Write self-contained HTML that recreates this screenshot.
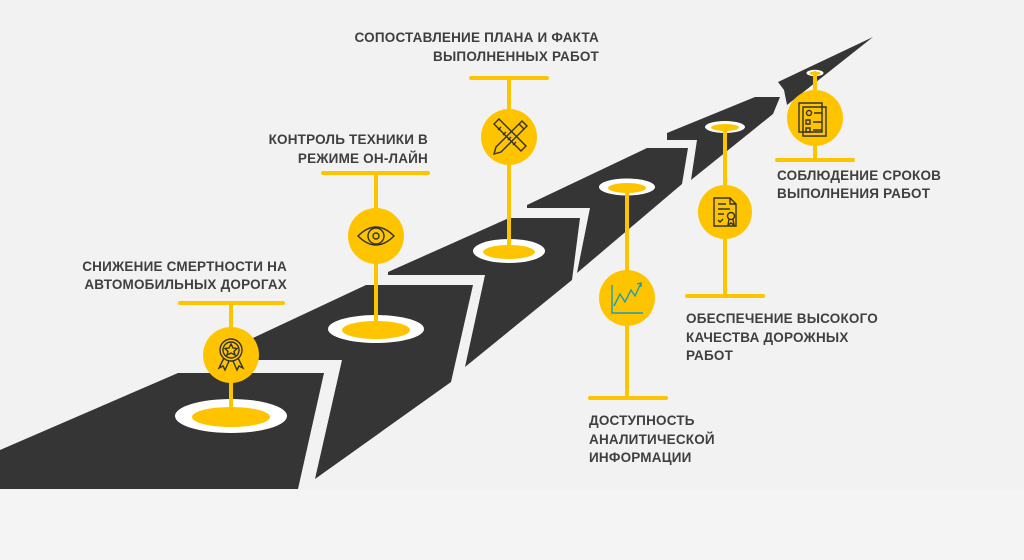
<!DOCTYPE html>
<html><head><meta charset="utf-8"><style>
html,body{margin:0;padding:0;background:#f2f2f2;}
svg{display:block}
text{font-family:"Liberation Sans","DejaVu Sans",sans-serif;font-weight:bold;font-size:13.5px;fill:#3f3f3f;letter-spacing:0.2px}
</style></head><body>
<svg width="1024" height="560" viewBox="0 0 1024 560" xmlns="http://www.w3.org/2000/svg">
<rect width="1024" height="560" fill="#f4f4f4"/>
<rect width="1024" height="490" fill="#f2f2f2"/>
<g fill="#353535">
<polygon points="0,450 178,373 324,373 298,489 0,489"/>
<polygon points="253,338 366,285 473,285 451,382 315,479 342,360 253,360"/>
<polygon points="388,272 509,218 580,218 572,280 465,367 485,275 388,275"/>
<polygon points="527,205 647,148 688,148 682,184 577,273 590,208 527,208"/>
<polygon points="667,133 755,97 780,97 773,114 691,180 697,140 667,140"/>
<polygon points="778,82 873,37 787,105 784,90"/>
</g>
<g>
<ellipse cx="231" cy="416" rx="56" ry="17" fill="#fff"/><ellipse cx="231" cy="417" rx="39" ry="10" fill="#ffc400"/>
<ellipse cx="376" cy="329" rx="48" ry="14" fill="#fff"/><ellipse cx="376" cy="330" rx="34" ry="9" fill="#ffc400"/>
<ellipse cx="509" cy="251" rx="36" ry="12" fill="#fff"/><ellipse cx="509" cy="252" rx="26" ry="7" fill="#ffc400"/>
<ellipse cx="627" cy="187" rx="28" ry="8.5" fill="#fff"/><ellipse cx="627" cy="188" rx="19" ry="5" fill="#ffc400"/>
<ellipse cx="725" cy="127" rx="20" ry="6" fill="#fff"/><ellipse cx="725" cy="127.5" rx="14" ry="3.5" fill="#ffc400"/>
<ellipse cx="815" cy="73" rx="8.5" ry="3.2" fill="#fff"/><ellipse cx="815" cy="73.3" rx="5.5" ry="1.8" fill="#ffc400"/>
</g>
<g stroke="#ffc400" stroke-width="4" stroke-linecap="round" fill="none">
<line x1="180" y1="303" x2="283" y2="303"/><line x1="231" y1="303" x2="231" y2="414"/>
<line x1="323" y1="173" x2="428" y2="173"/><line x1="376" y1="173" x2="376" y2="327"/>
<line x1="471" y1="78" x2="547" y2="78"/><line x1="509" y1="78" x2="509" y2="249"/>
<line x1="590" y1="398" x2="666" y2="398"/><line x1="627" y1="187" x2="627" y2="398"/>
<line x1="687" y1="296" x2="763" y2="296"/><line x1="725" y1="127" x2="725" y2="296"/>
<line x1="777" y1="160" x2="853" y2="160"/><line x1="815" y1="73" x2="815" y2="160"/>
</g>
<g fill="#ffc400">
<circle cx="231" cy="355" r="28"/>
<circle cx="376" cy="236" r="28"/>
<circle cx="509" cy="137" r="28"/>
<circle cx="627" cy="298" r="28"/>
<circle cx="725" cy="212" r="27"/>
<circle cx="815" cy="118" r="28"/>
</g>
<g stroke="#333" stroke-width="1.4" fill="none">
<circle cx="231" cy="350" r="11"/><circle cx="231" cy="350" r="8"/>
<polygon points="231,344 233,348 237,348.5 234,351.5 235,355 231,353 227,355 228,351.5 225,348.5 229,348" />
<path d="M224,358 L219,368 L223,366 L225,370 L229,361 M238,358 L243,368 L239,366 L237,370 L233,361"/>
<path d="M358,236 Q376,218 394,236 Q376,254 358,236 Z"/><circle cx="376" cy="236" r="8"/><circle cx="376" cy="236" r="3"/>
<path d="M494,124 L499,119 L526,146 L521,151 Z M498,130 l3,-3 M503,135 l3,-3 M508,140 l3,-3 M513,145 l3,-3"/>
<path d="M522,121 L527,126 L501,152 L494,154 L496,147 Z M519,124 l5,5"/>
<path d="M612,285 L612,313 L643,313" stroke="#1a9db0"/>
<path d="M614,306 L620,294 L625,302 L631,290 L635,296 L641,283 M637,284 l4,-1 l0,4" stroke="#1a9db0"/>
<path d="M714,198 L730,198 L736,204 L736,226 L714,226 Z M730,198 L730,204 L736,204 M718,204 h8 M718,209 h12 M718,214 h6 M718,220 l2,2 l3,-3"/>
<circle cx="731" cy="216" r="3.5"/><path d="M729,219 l-1,6 l3,-2 l3,2 l-1,-6"/>
<path d="M799,103 L822,103 L822,132 L799,132 Z M803,107 L826,107 L826,136 L803,136 Z"/>
<circle cx="809" cy="113" r="2.5"/><path d="M814,113 h8 M806,120 h4 v4 h-4 z M813,122 h9 M806,128 h4 v4 h-4 z M813,130 h9"/>
</g>
<text text-anchor="end"><tspan x="287" y="271">СНИЖЕНИЕ СМЕРТНОСТИ НА</tspan><tspan x="287" y="289">АВТОМОБИЛЬНЫХ ДОРОГАХ</tspan></text>
<text text-anchor="end"><tspan x="428" y="144">КОНТРОЛЬ ТЕХНИКИ В</tspan><tspan x="428" y="163">РЕЖИМЕ ОН-ЛАЙН</tspan></text>
<text text-anchor="end"><tspan x="599" y="42">СОПОСТАВЛЕНИЕ ПЛАНА И ФАКТА</tspan><tspan x="599" y="61">ВЫПОЛНЕННЫХ РАБОТ</tspan></text>
<text><tspan x="589" y="425">ДОСТУПНОСТЬ</tspan><tspan x="589" y="444">АНАЛИТИЧЕСКОЙ</tspan><tspan x="589" y="462">ИНФОРМАЦИИ</tspan></text>
<text><tspan x="686" y="323">ОБЕСПЕЧЕНИЕ ВЫСОКОГО</tspan><tspan x="686" y="342">КАЧЕСТВА ДОРОЖНЫХ</tspan><tspan x="686" y="360">РАБОТ</tspan></text>
<text><tspan x="777" y="180">СОБЛЮДЕНИЕ СРОКОВ</tspan><tspan x="777" y="198">ВЫПОЛНЕНИЯ РАБОТ</tspan></text>
</svg>
</body></html>
